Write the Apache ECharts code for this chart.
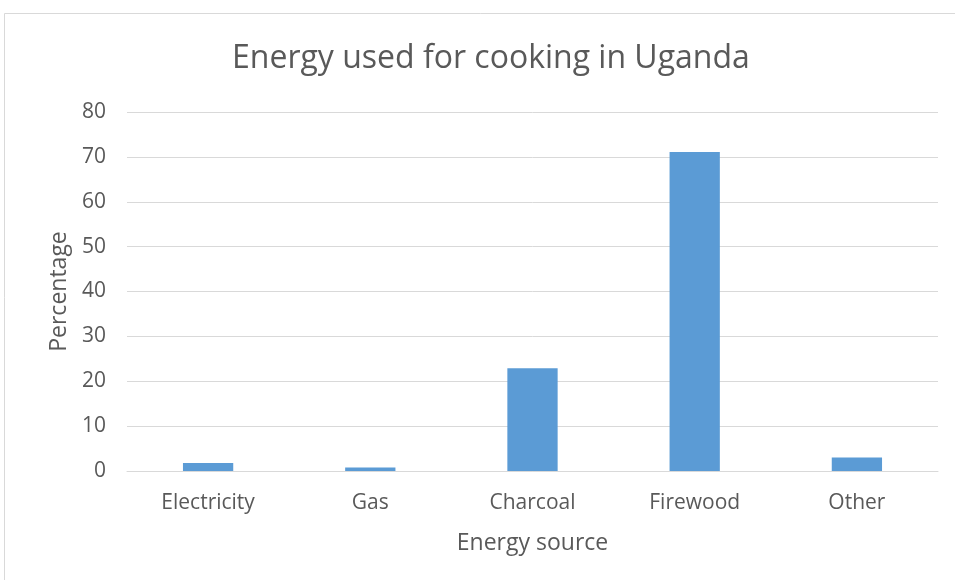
<!DOCTYPE html>
<html>
<head>
<meta charset="utf-8">
<script src="https://cdn.jsdelivr.net/npm/echarts@6/dist/echarts.min.js"></script>
<style>
  html, body { margin: 0; padding: 0; background: #ffffff; }
  #chart { width: 955px; height: 580px; }
</style>
</head>
<body>
<div id="chart"></div>
<script>
// Energy sources used for cooking (share of households, %)
const categories = ['Electricity', 'Gas', 'Charcoal', 'Firewood', 'Other'];
const percentages = [1.8, 0.8, 22.9, 71.1, 3.0];
const yTicks = [0, 10, 20, 30, 40, 50, 60, 70, 80];

const textColor = '#595959';
const gridColor = '#d9d9d9';
const fontFamily = '"Open Sans", "Liberation Sans", sans-serif';

const chart = echarts.init(document.getElementById('chart'), null, { renderer: 'canvas' });

chart.setOption({
  backgroundColor: '#ffffff',
  animation: false,
  textStyle: { fontFamily: fontFamily },
  graphic: [{
    type: 'rect',
    shape: { x: 4.5, y: 13.5, width: 1000, height: 1000 },
    style: { fill: 'none', stroke: '#d9d9d9', lineWidth: 1 },
    silent: true
  }],
  title: {
    text: 'Energy used for cooking in Uganda',
    left: 227,
    top: 38,
    textStyle: { color: textColor, fontSize: 32, fontWeight: 'normal', fontFamily: fontFamily }
  },
  grid: { left: 127, right: 17, top: 112, bottom: 109, containLabel: false },
  xAxis: {
    type: 'category',
    data: categories,
    name: 'Energy source',
    nameLocation: 'middle',
    nameGap: 61,
    nameTextStyle: { color: textColor, fontSize: 23, fontFamily: fontFamily },
    axisLine: { lineStyle: { color: gridColor, width: 1 } },
    axisTick: { show: false },
    axisLabel: { color: textColor, fontSize: 21, margin: 22, fontFamily: fontFamily }
  },
  yAxis: {
    type: 'value',
    min: yTicks[0],
    max: yTicks[yTicks.length - 1],
    interval: 10,
    name: 'Percentage',
    nameLocation: 'middle',
    nameGap: 55,
    nameRotate: 90,
    nameTextStyle: { color: textColor, fontSize: 23, fontFamily: fontFamily },
    axisLine: { show: false },
    axisTick: { show: false },
    axisLabel: { color: textColor, fontSize: 21, margin: 21, fontFamily: fontFamily },
    splitLine: { lineStyle: { color: gridColor, width: 1 } }
  },
  series: [{
    type: 'bar',
    data: percentages,
    barWidth: '31%',
    itemStyle: { color: '#5b9bd5' }
  }]
});
</script>
</body>
</html>
